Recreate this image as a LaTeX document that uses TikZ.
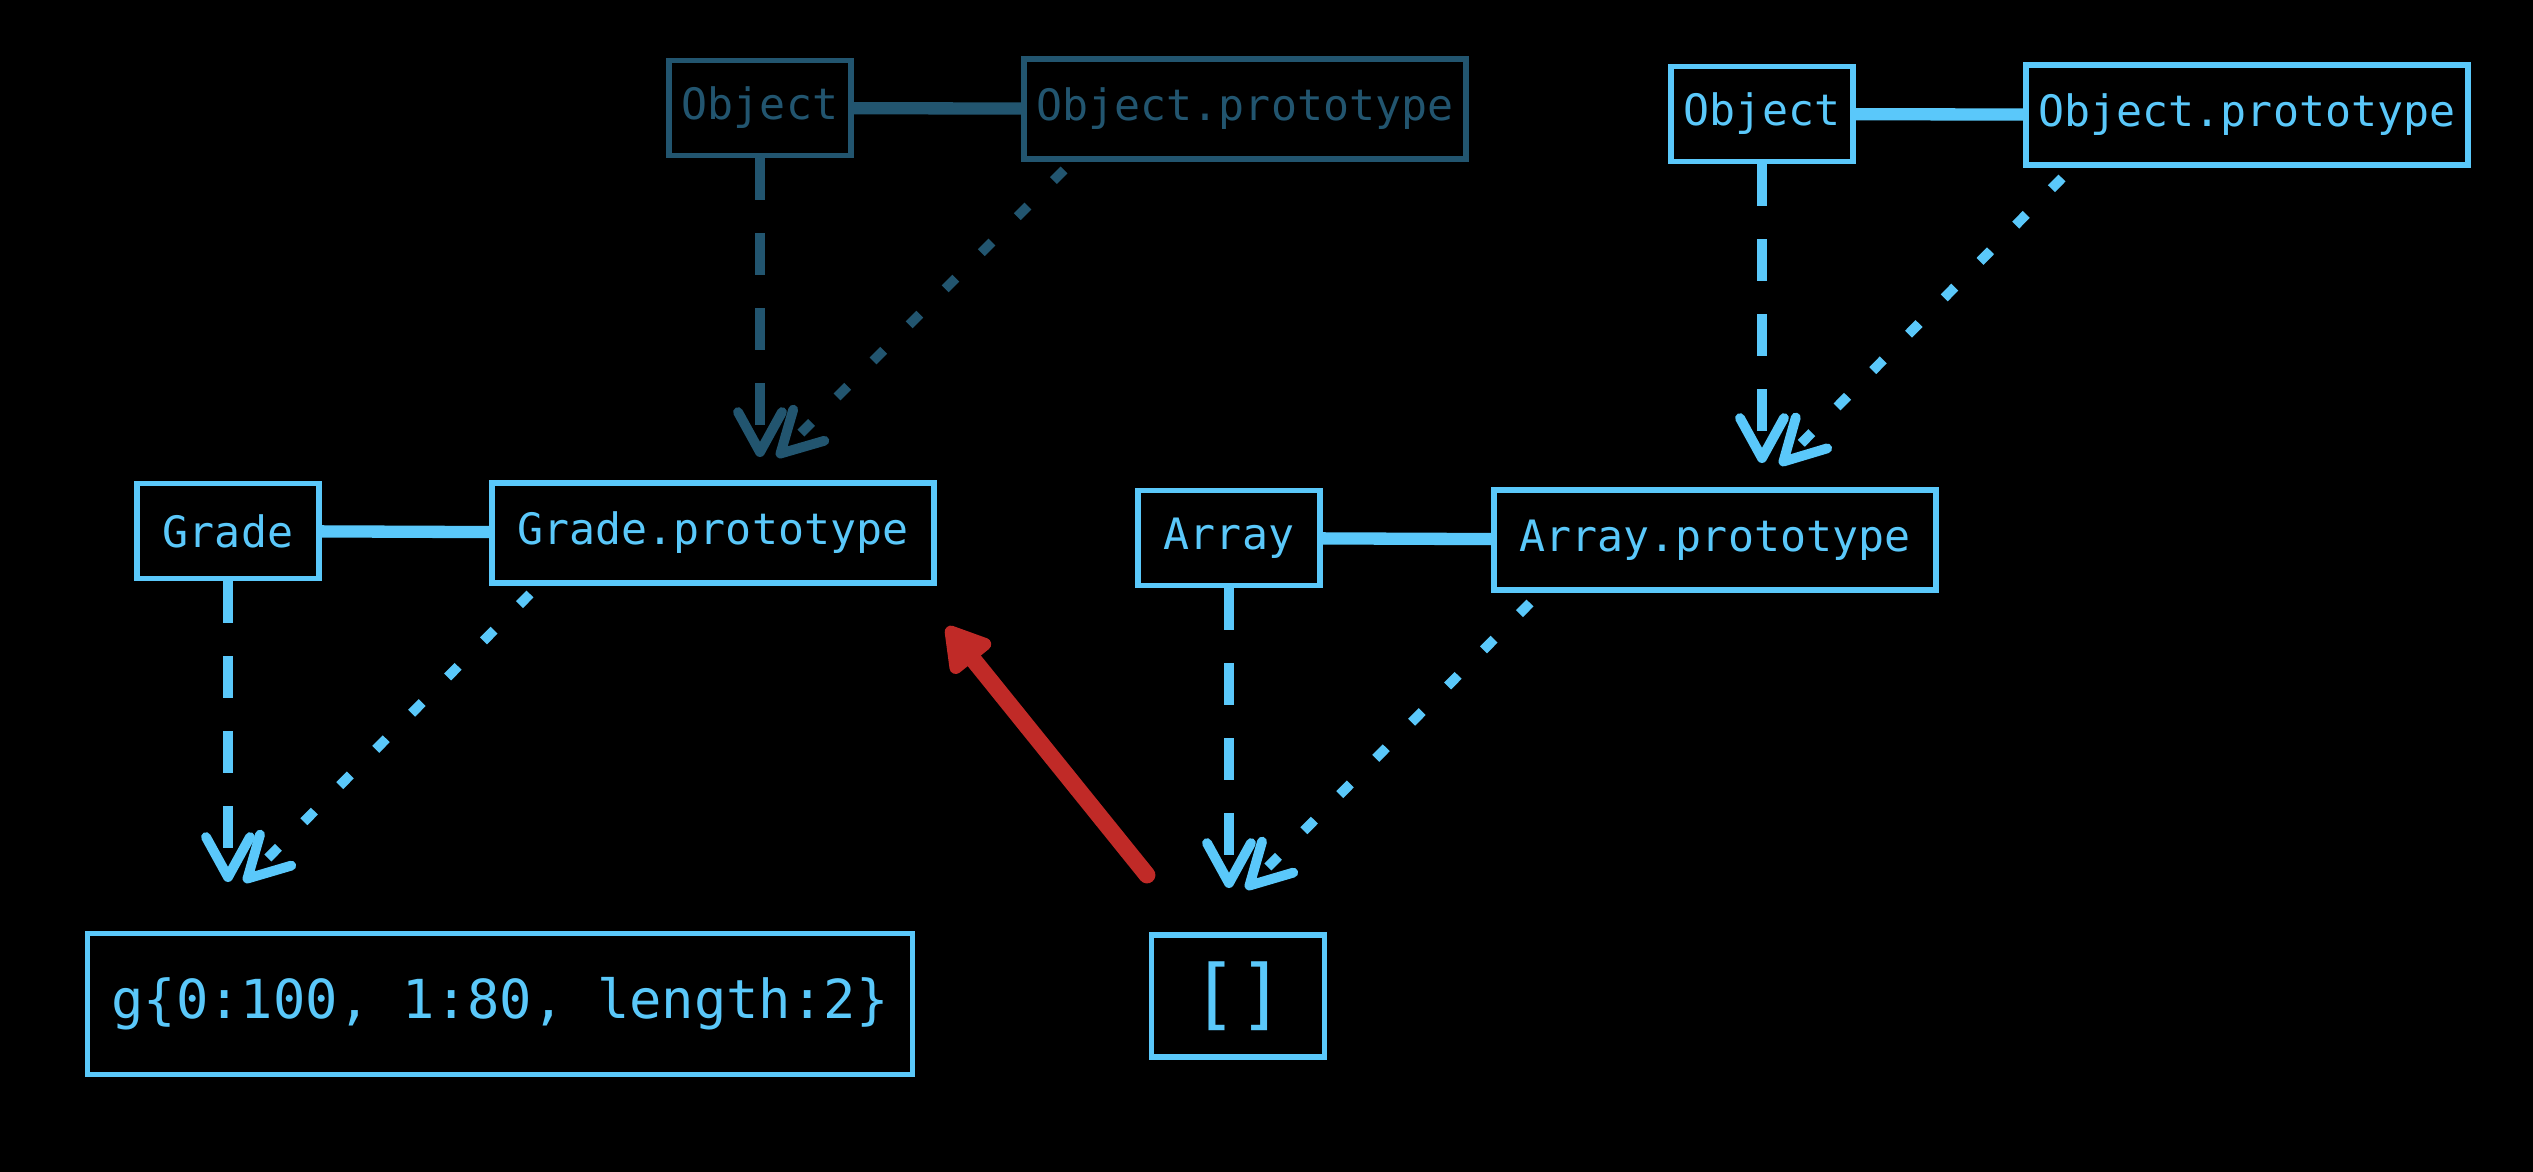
\documentclass[tikz,border=0pt]{standalone}
\usepackage{fontspec}
\usepackage{tikz}
\usetikzlibrary{arrows.meta}
\newfontfamily\handfont{DejaVu Sans Mono}
\definecolor{jsblue}{HTML}{5AC8FA}
\definecolor{jsdim}{HTML}{22556F}
\definecolor{jsred}{HTML}{C02A27}

\begin{document}
\begin{tikzpicture}[
  jsbox/.style={draw, line width=1.6pt, inner sep=0pt, font=\handfont\fontsize{12.3}{14}\selectfont},
  fnbox/.style={jsbox, minimum width=1.82cm, minimum height=0.95cm},
  protobox/.style={jsbox, minimum width=4.42cm, minimum height=1cm},
  tie/.style={line width=3.5pt},
  barb/.style={-{Straight Barb[length=0.4cm,width=0.44cm,round]}},
  ctorlink/.style={barb, line width=2.8pt, dash pattern=on 0.42cm off 0.33cm},
  protolink/.style={barb, line width=2.8pt, dash pattern=on 0.15cm off 0.36cm}
]
\fill[black] (0,0) rectangle (25.33,-11.72);

\node[fnbox, jsdim] (objD) at (7.60,-1.08) {Object};
\node[protobox, jsdim] (objpD) at (12.45,-1.09) {Object.prototype};
\node[fnbox, jsblue] (objL) at (17.62,-1.14) {Object};
\node[protobox, jsblue] (objpL) at (22.47,-1.15) {Object.prototype};
\node[fnbox, jsblue] (grade) at (2.28,-5.31) {Grade};
\node[protobox, jsblue] (gradep) at (7.13,-5.33) {Grade.prototype};
\node[fnbox, jsblue] (array) at (12.29,-5.38) {Array};
\node[protobox, jsblue] (arrayp) at (17.15,-5.40) {Array.prototype};
\node[jsbox, jsblue, minimum width=8.25cm, minimum height=1.41cm, font=\handfont\fontsize{15.3}{18}\selectfont] (g) at (5.00,-10.04) {g\{0:100, 1:80, length:2\}};
\node[jsbox, jsblue, minimum width=1.73cm, minimum height=1.22cm, font=\handfont\fontsize{22}{25}\selectfont] (arr) at (12.38,-9.96) {[]};

\coordinate (objpDout) at (10.64,-1.70);
\coordinate (gradepInC) at (7.60,-4.57);
\coordinate (gradepInP) at (7.77,-4.57);
\coordinate (objpLout) at (20.62,-1.78);
\coordinate (arraypInC) at (17.62,-4.63);
\coordinate (arraypInP) at (17.80,-4.65);
\coordinate (gradepout) at (5.30,-5.94);
\coordinate (gInC) at (2.28,-8.82);
\coordinate (gInP) at (2.44,-8.82);
\coordinate (arraypout) at (15.30,-6.03);
\coordinate (arrInC) at (12.29,-8.88);
\coordinate (arrInP) at (12.46,-8.89);
\coordinate (arrout) at (11.47,-8.75);
\coordinate (gradepback) at (9.47,-6.27);

\draw[tie, jsdim] (objD) -- (objpD);
\draw[ctorlink, jsdim] (objD) -- (gradepInC);
\draw[protolink, jsdim] (objpDout) -- (gradepInP);

\draw[tie, jsblue] (objL) -- (objpL);
\draw[ctorlink, jsblue] (objL) -- (arraypInC);
\draw[protolink, jsblue] (objpLout) -- (arraypInP);

\draw[tie, jsblue] (grade) -- (gradep);
\draw[ctorlink, jsblue] (grade) -- (gInC);
\draw[protolink, jsblue] (gradepout) -- (gInP);

\draw[tie, jsblue] (array) -- (arrayp);
\draw[ctorlink, jsblue] (array) -- (arrInC);
\draw[protolink, jsblue] (arraypout) -- (arrInP);

\draw[jsred, line width=4.8pt, line cap=round, -{Triangle[length=0.5cm,width=0.56cm,round]}] (arrout) -- (gradepback);
\end{tikzpicture}
\end{document}
